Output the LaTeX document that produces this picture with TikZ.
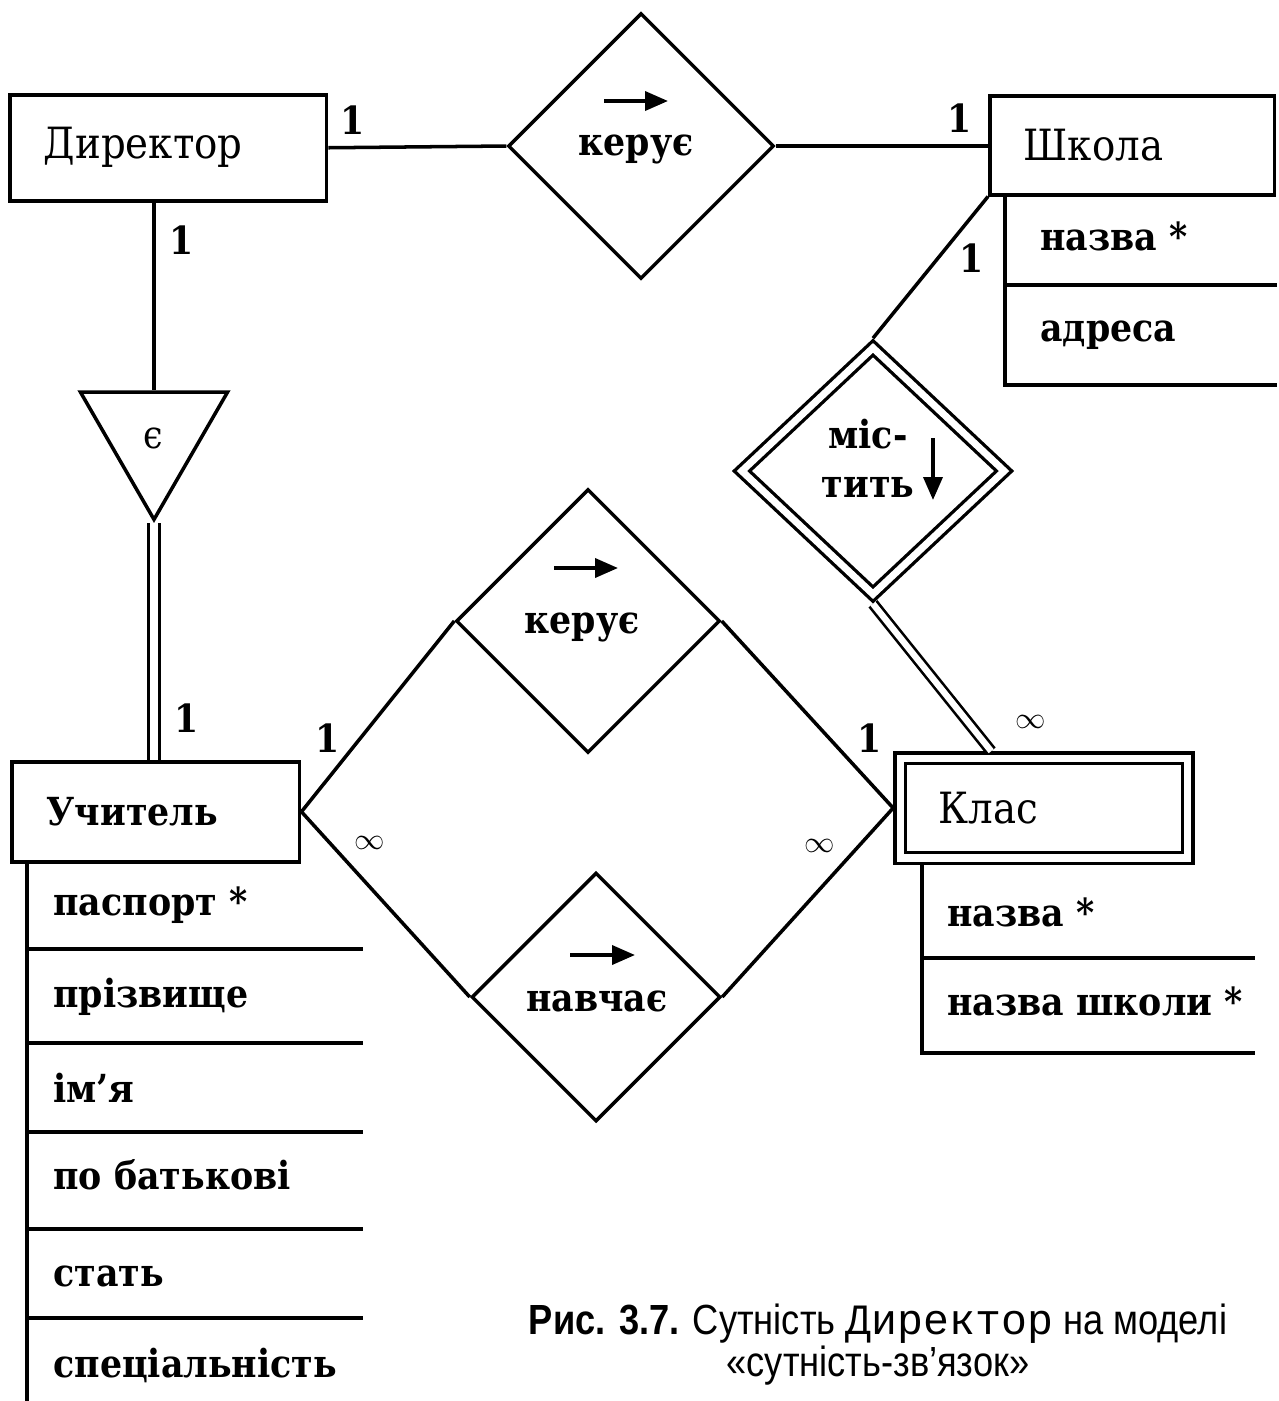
\documentclass[tikz,border=0pt]{standalone}
\usepackage{fontspec}
\setmainfont{DejaVu Serif}[FakeStretch=0.9]
\newfontfamily\capsans{Liberation Sans}[FakeStretch=0.86]
\newfontfamily\capmono{Liberation Mono}
\usetikzlibrary{shapes.geometric,arrows.meta,calc}

\begin{document}
\begin{tikzpicture}[x=0.02cm,y=-0.02cm,
  ln/.style={line width=2pt},
  dbl/.style={draw, line width=1.9pt, double, double distance=4pt},
  entity/.style={draw, line width=2pt, inner sep=0pt, anchor=north west, align=left,
                 font=\fontsize{24.5}{28}\selectfont},
  rel/.style={draw, diamond, line width=2pt, inner sep=0pt, aspect=1},
  attr/.style={anchor=base west, inner sep=0pt, font=\fontsize{22}{26}\selectfont\bfseries},
  card/.style={inner sep=0pt, font=\fontsize{22}{26}\selectfont\bfseries},
  inf/.style={inner sep=0pt, font=\fontsize{17}{20}\selectfont},
  rtext/.style={anchor=base, inner sep=0pt, font=\fontsize{22}{26}\selectfont\bfseries},
  dirarrow/.style={line width=2.1pt, -{Triangle[length=0.46cm, width=0.38cm]}}
]
% canvas
\fill[white] (0,0) rectangle (1279,1401);
\useasboundingbox (0,0) rectangle (1279,1401);

% ---------- entities ----------
\node[entity, minimum width=6.34cm, minimum height=2.12cm, text width=4.98cm, inner xsep=0.68cm]
  (dir) at (8,93) {\raisebox{-0.06cm}{Директор}};
\node[entity, minimum width=5.70cm, minimum height=1.98cm, text width=4.34cm, inner xsep=0.68cm]
  (shk) at (988,94) {\raisebox{-0.06cm}{Школа}};
\node[entity, minimum width=5.76cm, minimum height=2.0cm, text width=4.36cm, inner xsep=0.70cm,
  font=\fontsize{22}{26}\selectfont\bfseries]
  (uch) at (10,760) {Учитель};
\node[entity, dbl, anchor=center, outer sep=3.9pt, minimum width=5.76cm, minimum height=2.0cm,
  text width=4.22cm, inner xsep=0.77cm]
  (klas) at (1044,808) {\raisebox{-0.2cm}{Клас}};

% ---------- relationships ----------
\node[rel, minimum width=5.32cm, minimum height=5.32cm] (ker) at (641,146) {};
\node[rel, minimum width=5.28cm, minimum height=5.28cm] (ker2) at (588,621) {};
\node[rel, minimum width=4.98cm, minimum height=4.98cm] (nav) at (596,997) {};
\node[rel, dbl, outer sep=3.9pt, minimum width=5.36cm, minimum height=5.04cm] (mist) at (873,471) {};
\node[draw, regular polygon, regular polygon sides=3, shape border rotate=180,
      minimum size=3.4cm, inner sep=0pt, line width=2pt] (is) at (154,434.5) {};

% relationship texts and direction arrows
\node[rtext] (kerT) at (636,155) {керує};
\draw[dirarrow] (604,101) -- (668,101);
\node[rtext] (ker2T) at (582,633) {керує};
\draw[dirarrow] (554,568) -- (618,568);
\node[rtext] (navT) at (597,1011) {навчає};
\draw[dirarrow] (570,955) -- (635,955);
\node[rtext] (mistA) at (868,448) {міс-};
\node[rtext] (mistB) at (868,497) {тить};
\draw[dirarrow] (933,438) -- (933,500);
\node[anchor=base, inner sep=0pt, font=\fontsize{22}{26}\selectfont] (isT) at (153,448) {є};

% ---------- connectors ----------
\draw[ln] (dir.east) -- (ker.west);
\draw[ln] (ker.east) -- (ker.east -| shk.west);
\draw[ln] (is.north |- dir.south) -- (is.north);
\draw[dbl] (is.south) -- (is.south |- uch.north);
\draw[ln] (shk.south west) -- (mist.north);
\draw[dbl, line width=1.5pt, double distance=3.6pt] (mist.south) -- ([xshift=1.96cm]klas.north west);
\draw[ln] (uch.east) -- (ker2.west);
\draw[ln] (uch.east) -- (nav.west);
\draw[ln] (klas.west) -- (ker2.east);
\draw[ln] (klas.west) -- (nav.east);

% cardinalities
\node[card] (c1) at (353,120) {1};
\node[card] (c2) at (960,118) {1};
\node[card] (c3) at (182,240) {1};
\node[card] (c4) at (972,258) {1};
\node[card] (c5) at (187,718) {1};
\node[card] (c6) at (328,738) {1};
\node[card] (c7) at (870,738) {1};
\node[inf] (i1) at (1031,722) {$\infty$};
\node[inf] (i2) at (370,843) {$\infty$};
\node[inf] (i3) at (820,846) {$\infty$};

% ---------- attribute lists ----------
% Школа
\draw[ln] (1005,193) -- (1005,385) -- (1277,385);
\draw[ln] (1005,285) -- (1277,285);
\node[attr] (a1) at (1040,250) {назва *};
\node[attr] (a2) at (1040,341) {адреса};
% Клас
\draw[ln] (922,863) -- (922,1053) -- (1255,1053);
\draw[ln] (922,958) -- (1255,958);
\node[attr] (b1) at (947,926) {назва *};
\node[attr] (b2) at (947,1015) {назва школи *};
% Учитель
\draw[ln] (27,860) -- (27,1401);
\foreach \yy in {949,1043,1132,1229,1318} \draw[ln] (27,\yy) -- (363,\yy);
\node[attr] (u1) at (53,915) {паспорт *};
\node[attr] (u2) at (53,1007) {прізвище};
\node[attr] (u3) at (53,1102) {ім’я};
\node[attr] (u4) at (53,1189) {по батькові};
\node[attr] (u5) at (53,1286) {стать};
\node[attr] (u6) at (53,1377) {спеціальність};

% ---------- caption ----------
\node[anchor=base, inner sep=0pt, align=center, font=\fontsize{24}{18.5}\capsans] (cap) at (878,1376)
  {{\bfseries Рис. 3.7.} Сутність {\capmono\fontsize{24.6}{18.5}\selectfont Директор} на моделі\\
   «сутність-зв’язок»};
\end{tikzpicture}
\end{document}
